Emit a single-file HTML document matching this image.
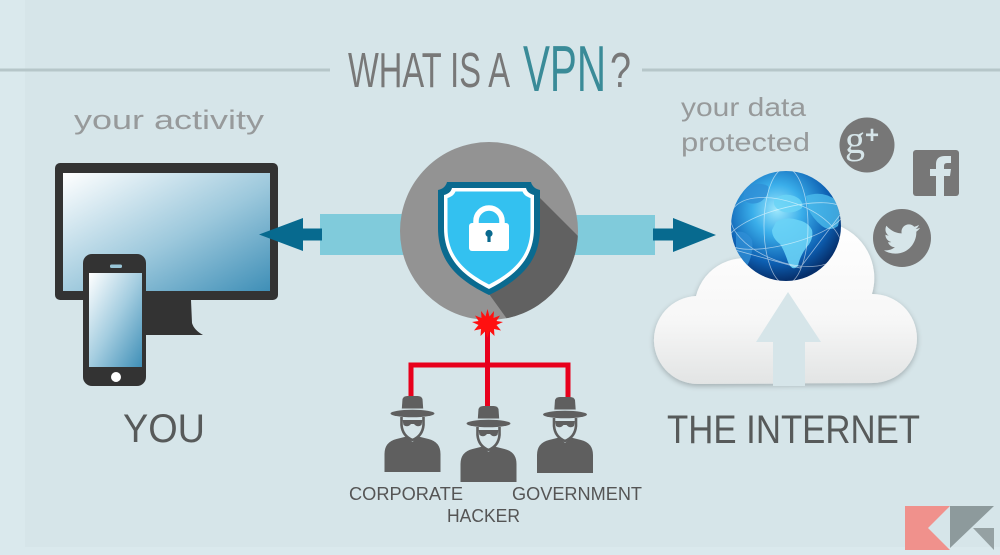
<!DOCTYPE html>
<html>
<head>
<meta charset="utf-8">
<style>
html,body{margin:0;padding:0;width:1000px;height:555px;overflow:hidden;background:#d9e9ed;}
svg{display:block;}
</style>
</head>
<body>
<svg width="1000" height="555" viewBox="0 0 1000 555" xmlns="http://www.w3.org/2000/svg">
  <defs>
    <linearGradient id="scr" x1="0" y1="0" x2="1" y2="1">
      <stop offset="0" stop-color="#ffffff"/>
      <stop offset="0.55" stop-color="#9cc8dc"/>
      <stop offset="1" stop-color="#3f8fb7"/>
    </linearGradient>
    <linearGradient id="pscr" x1="0" y1="0" x2="1" y2="1">
      <stop offset="0" stop-color="#ffffff"/>
      <stop offset="0.5" stop-color="#a4cde0"/>
      <stop offset="1" stop-color="#3f8fb7"/>
    </linearGradient>
    <linearGradient id="cloudg" x1="0" y1="0" x2="0" y2="1">
      <stop offset="0" stop-color="#ffffff"/>
      <stop offset="0.6" stop-color="#f7f7f7"/>
      <stop offset="1" stop-color="#e2e4e4"/>
    </linearGradient>
    <radialGradient id="globeg" cx="0.42" cy="0.35" r="0.65">
      <stop offset="0" stop-color="#9ee8fd"/>
      <stop offset="0.35" stop-color="#3aaeea"/>
      <stop offset="0.75" stop-color="#0d5fb2"/>
      <stop offset="1" stop-color="#062f6b"/>
    </radialGradient>
    <clipPath id="circ"><circle cx="489" cy="231" r="89"/></clipPath>
    <clipPath id="globec"><circle cx="786" cy="226" r="55"/></clipPath>
    <filter id="sh" x="-20%" y="-20%" width="140%" height="140%">
      <feGaussianBlur in="SourceAlpha" stdDeviation="3"/>
      <feOffset dx="0" dy="2"/>
      <feComponentTransfer><feFuncA type="linear" slope="0.25"/></feComponentTransfer>
      <feMerge><feMergeNode/><feMergeNode in="SourceGraphic"/></feMerge>
    </filter>
  </defs>

  <!-- background -->
  <rect x="0" y="0" width="1000" height="555" fill="#dae9ed"/>
  <rect x="25" y="0" width="975" height="547" fill="#d6e5e9"/>

  <!-- title lines -->
  <rect x="0" y="68.5" width="330" height="3" fill="#b6c6c9"/>
  <rect x="642" y="68.5" width="358" height="3" fill="#b6c6c9"/>

  <!-- title -->
  <text x="348" y="87" font-family="Liberation Sans, sans-serif" font-size="49" fill="#787878" textLength="162" lengthAdjust="spacingAndGlyphs">WHAT IS A</text>
  <text x="523" y="91" font-family="Liberation Sans, sans-serif" font-size="65" fill="#3a8b98" textLength="83" lengthAdjust="spacingAndGlyphs">VPN</text>
  <text x="610" y="87" font-family="Liberation Sans, sans-serif" font-size="49" fill="#787878" textLength="21" lengthAdjust="spacingAndGlyphs">?</text>

  <!-- small labels -->
  <text x="74" y="129" font-family="Liberation Sans, sans-serif" font-size="27" fill="#979a9b" textLength="190" lengthAdjust="spacingAndGlyphs">your activity</text>
  <text x="681" y="116" font-family="Liberation Sans, sans-serif" font-size="26" fill="#979a9b" textLength="125" lengthAdjust="spacingAndGlyphs">your data</text>
  <text x="681" y="151" font-family="Liberation Sans, sans-serif" font-size="26" fill="#979a9b" textLength="129" lengthAdjust="spacingAndGlyphs">protected</text>

  <!-- monitor -->
  <path d="M145,300 L191,300 L192,323 Q194,330 203,335 L145,335 Z" fill="#333333"/>
  <rect x="55" y="163" width="223" height="137" rx="5" fill="#333333"/>
  <rect x="63" y="173" width="207" height="118" fill="url(#scr)"/>

  <!-- phone -->
  <rect x="83" y="254" width="63" height="132" rx="9" fill="#333333"/>
  <rect x="89" y="273" width="53" height="94" fill="url(#pscr)"/>
  <rect x="110" y="264.5" width="12" height="3.5" rx="1.5" fill="#9ac6d8"/>
  <circle cx="116" cy="377" r="5" fill="#ffffff"/>

  <!-- left arrow + bar -->
  <rect x="320" y="214" width="90" height="41" fill="#80cbdb"/>
  <rect x="300" y="228.5" width="22" height="12" fill="#076a8f"/>
  <polygon points="259,234.5 303,218 303,251" fill="#076a8f"/>

  <!-- right arrow + bar -->
  <rect x="570" y="215" width="85" height="40" fill="#80cbdb"/>
  <rect x="653" y="228.5" width="22" height="12" fill="#076a8f"/>
  <polygon points="716,235 673,218 673,252" fill="#076a8f"/>

  <!-- VPN circle -->
  <circle cx="489" cy="231" r="89" fill="#939393"/>
  <g clip-path="url(#circ)">
    <polygon points="526,184 640,298 580,420 489,294" fill="#616161"/>
  </g>

  <!-- shield -->
  <path d="M438,190 C443,189 446,186 447,182 L531,182 C532,186 535,189 540,190 L540,228 C540,262 520,280 489,295 C458,280 438,262 438,228 Z" fill="#0a6a8f"/>
  <path d="M444,195 C448,194 451,192 452,188 L526,188 C527,192 530,194 534,195 L534,228 C534,258 516,275 489,289 C462,275 444,258 444,228 Z" fill="#ffffff"/>
  <path d="M447.5,198 C451,197 454,195 455.5,191.5 L522.5,191.5 C524,195 527,197 530.5,198 L530.5,228 C530.5,256 514,271.5 489,284.5 C464,271.5 447.5,256 447.5,228 Z" fill="#33c1f0"/>
  <!-- lock -->
  <path d="M476,225 L476,221 A13,13 0 0 1 502,221 L502,225" fill="none" stroke="#ffffff" stroke-width="5.5"/>
  <rect x="469" y="223" width="40" height="28" rx="3" fill="#ffffff"/>
  <circle cx="489" cy="233.5" r="3.6" fill="#0a6a8f"/>
  <rect x="487.4" y="234" width="3.2" height="8" fill="#0a6a8f"/>

  <!-- red lines -->
  <g fill="#e8001c">
    <rect x="485" y="328" width="5" height="78"/>
    <rect x="408.5" y="362.5" width="162" height="5"/>
    <rect x="408.5" y="362.5" width="5" height="35"/>
    <rect x="565.5" y="362.5" width="5" height="36"/>
  </g>
  <polygon fill="#ff1010" points="487.5,309 489.5,316.5 494,311 493.5,318 500,315.5 496.5,321 503,322 496.5,325 501,330.5 494,329 494.5,336 489.5,331 487.5,338 485.5,331 480.5,336 481,329 474,330.5 478.5,325 472,322 478.5,321 475,315.5 481.5,318 481,311 485.5,316.5"/>

  <!-- hackers -->
  <g fill="#5f5f5f">
    <g transform="translate(412.5,396)">
      <path d="M-11,17 L-10,3 Q-9,0 -5,0 L5,0 Q9,0 10,3 L11,17 Z"/>
      <rect x="-11" y="12.5" width="22" height="2.5" fill="#cfdde1"/>
      <ellipse cx="0" cy="17.5" rx="22" ry="3.8"/>
      <path d="M-28,76 L-28,58 Q-28,46 -16,43 L-6,40.5 L0,46 L6,40.5 L16,43 Q28,46 28,58 L28,76 Z"/>
      <path d="M-11,21 L-11,29 Q-10,40 0,44 Q10,40 11,29 L11,21" fill="none" stroke="#5f5f5f" stroke-width="2.6"/>
      <path d="M-10,24 L10,24 L9,29 Q5,32 1.5,28 L-1.5,28 Q-5,32 -9,29 Z"/>
    </g>
    <g transform="translate(488.5,406)">
      <path d="M-11,17 L-10,3 Q-9,0 -5,0 L5,0 Q9,0 10,3 L11,17 Z"/>
      <rect x="-11" y="12.5" width="22" height="2.5" fill="#cfdde1"/>
      <ellipse cx="0" cy="17.5" rx="22" ry="3.8"/>
      <path d="M-28,76 L-28,58 Q-28,46 -16,43 L-6,40.5 L0,46 L6,40.5 L16,43 Q28,46 28,58 L28,76 Z"/>
      <path d="M-11,21 L-11,29 Q-10,40 0,44 Q10,40 11,29 L11,21" fill="none" stroke="#5f5f5f" stroke-width="2.6"/>
      <path d="M-10,24 L10,24 L9,29 Q5,32 1.5,28 L-1.5,28 Q-5,32 -9,29 Z"/>
    </g>
    <g transform="translate(565,397)">
      <path d="M-11,17 L-10,3 Q-9,0 -5,0 L5,0 Q9,0 10,3 L11,17 Z"/>
      <rect x="-11" y="12.5" width="22" height="2.5" fill="#cfdde1"/>
      <ellipse cx="0" cy="17.5" rx="22" ry="3.8"/>
      <path d="M-28,76 L-28,58 Q-28,46 -16,43 L-6,40.5 L0,46 L6,40.5 L16,43 Q28,46 28,58 L28,76 Z"/>
      <path d="M-11,21 L-11,29 Q-10,40 0,44 Q10,40 11,29 L11,21" fill="none" stroke="#5f5f5f" stroke-width="2.6"/>
      <path d="M-10,24 L10,24 L9,29 Q5,32 1.5,28 L-1.5,28 Q-5,32 -9,29 Z"/>
    </g>
  </g>

  <!-- hacker labels -->
  <text x="349" y="500" font-family="Liberation Sans, sans-serif" font-size="18" fill="#555555" textLength="114" lengthAdjust="spacingAndGlyphs">CORPORATE</text>
  <text x="512" y="500" font-family="Liberation Sans, sans-serif" font-size="18" fill="#555555" textLength="130" lengthAdjust="spacingAndGlyphs">GOVERNMENT</text>
  <text x="447" y="522" font-family="Liberation Sans, sans-serif" font-size="18" fill="#555555" textLength="73" lengthAdjust="spacingAndGlyphs">HACKER</text>

  <!-- big labels -->
  <text x="123" y="442" font-family="Liberation Sans, sans-serif" font-size="40" fill="#575a5a" textLength="82" lengthAdjust="spacingAndGlyphs">YOU</text>
  <text x="667" y="443" font-family="Liberation Sans, sans-serif" font-size="40" fill="#575a5a" textLength="253" lengthAdjust="spacingAndGlyphs">THE INTERNET</text>

  <!-- cloud -->
  <g filter="url(#sh)" fill="url(#cloudg)">
    <path d="M700,384 A44,44 0 0 1 696,296 A50,50 0 0 1 764,262 A56,56 0 0 1 872,294 A44,44 0 0 1 873,383 Z"/>
  </g>
  <polygon points="788,292 821,342 805,342 805,386 773,386 773,342 756,342" fill="#d6e5e9"/>

  <!-- globe -->
  <circle cx="786" cy="226" r="55" fill="url(#globeg)"/>
  <g clip-path="url(#globec)">
    <path d="M776,222 Q786,216 798,220 Q808,222 812,230 Q814,240 806,248 Q800,256 798,266 Q792,272 788,262 Q784,250 780,244 Q772,238 772,230 Z" fill="#6ad3f6" opacity="0.9"/>
    <path d="M774,200 Q782,192 794,196 Q804,200 802,208 Q794,214 784,212 Q776,210 774,204 Z" fill="#6ad3f6" opacity="0.85"/>
    <path d="M806,196 Q822,190 836,200 Q842,212 838,226 Q830,232 822,226 Q812,218 808,208 Z" fill="#4bbcec" opacity="0.8"/>
    <path d="M736,232 Q746,230 752,240 Q754,254 746,268 Q740,262 736,250 Z" fill="#2f8fd6" opacity="0.8"/>
    <path d="M744,190 Q756,180 768,186 Q770,196 760,202 Q750,206 744,200 Z" fill="#2f8fd6" opacity="0.8"/>
    <g fill="none" stroke="#ffffff" stroke-width="0.8" opacity="0.55">
      <ellipse cx="786" cy="226" rx="60" ry="18" transform="rotate(-15 786 226)"/>
      <ellipse cx="786" cy="232" rx="58" ry="30" transform="rotate(20 786 232)"/>
      <ellipse cx="786" cy="226" rx="22" ry="58"/>
      <path d="M735,250 L800,268 L840,215"/>
    </g>
  </g>

  <!-- social icons -->
  <circle cx="867" cy="145" r="27.5" fill="#777777"/>
  <text x="845" y="153" font-family="Liberation Serif, serif" font-size="40" fill="#d6e5e9">g</text>
  <text x="865" y="143" font-family="Liberation Sans, sans-serif" font-weight="bold" font-size="24" fill="#d6e5e9">+</text>

  <rect x="913" y="150" width="46" height="46" rx="3" fill="#777777"/>
  <path d="M936,196 L936,176 L930,176 L930,169 L936,169 L936,164 Q936,156 945,156 L951,156 L951,163 L947,163 Q944,163 944,166 L944,169 L951,169 L950,176 L944,176 L944,196 Z" fill="#d6e5e9"/>

  <circle cx="902" cy="238" r="29" fill="#777777"/>
  <g transform="translate(884,221) scale(1.5)">
    <path fill="#d6e5e9" d="M23.954 4.569c-.885.389-1.83.654-2.825.775 1.014-.611 1.794-1.574 2.163-2.723-.951.555-2.005.959-3.127 1.184-.896-.959-2.173-1.559-3.591-1.559-2.717 0-4.92 2.203-4.92 4.917 0 .39.045.765.127 1.124C7.691 8.094 4.066 6.13 1.64 3.161c-.427.722-.666 1.561-.666 2.475 0 1.71.87 3.213 2.188 4.096-.807-.026-1.566-.248-2.228-.616v.061c0 2.385 1.693 4.374 3.946 4.827-.413.111-.849.171-1.296.171-.314 0-.615-.03-.916-.086.631 1.953 2.445 3.377 4.604 3.417-1.680 1.319-3.809 2.105-6.102 2.105-.39 0-.779-.023-1.17-.067 2.189 1.394 4.768 2.209 7.557 2.209 9.054 0 13.999-7.496 13.999-13.986 0-.209 0-.42-.015-.63.961-.689 1.8-1.56 2.46-2.548l-.047-.02z"/>
  </g>

  <!-- logo -->
  <polygon points="905,506 950,506 928,528 950,550 905,550" fill="#f0918c"/>
  <polygon points="950,506 994,506 950,548" fill="#8d9a9c"/>
  <polygon points="973,528 994,528 994,550" fill="#95a1a3"/>
</svg>
</body>
</html>
